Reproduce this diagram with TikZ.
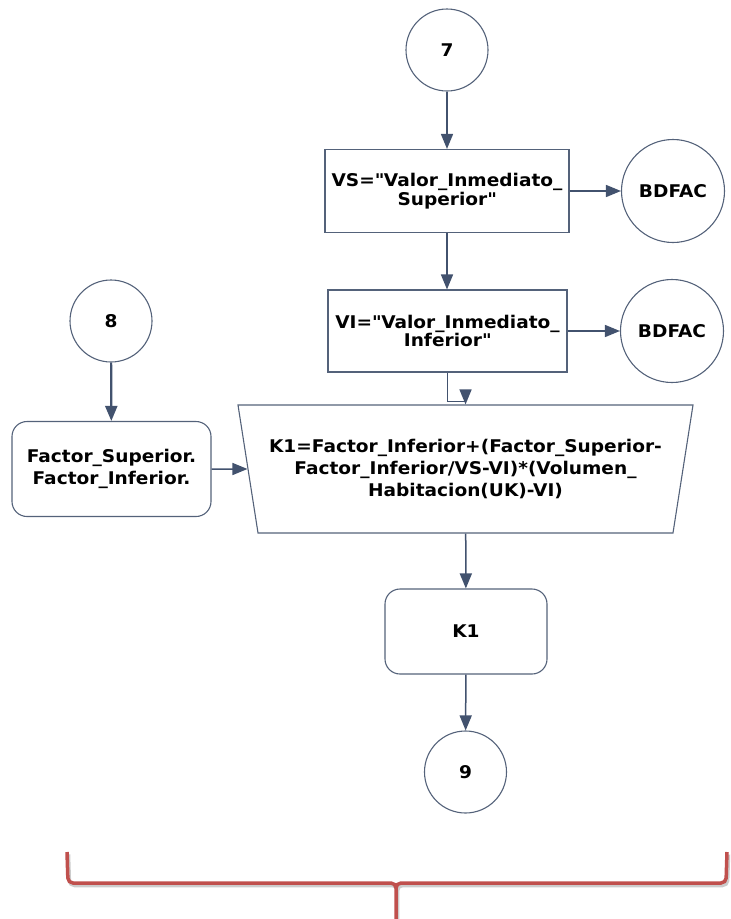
\documentclass[tikz,border=0pt]{standalone}
\usepackage{fontspec}
\setmainfont{DejaVu Sans}[FakeStretch=1.06]
\usetikzlibrary{arrows.meta,shapes.geometric}
\definecolor{linea}{RGB}{66,82,110}
\definecolor{borde}{RGB}{84,98,122}
\definecolor{llave}{RGB}{192,80,77}
\begin{document}
\begin{tikzpicture}[x=1pt,y=-1pt,>={Triangle[length=15pt,width=12pt]},
        every node/.style={font=\fontsize{17.5}{22}\selectfont\bfseries,align=center,inner sep=1pt},
        forma/.style={draw=borde,line width=1.1pt},
        circulo/.style={forma,circle,minimum size=82pt},
        bd/.style={forma,circle,minimum size=103pt},
        caja/.style={forma,rectangle,font=\fontsize{17.5}{16}\selectfont\bfseries},
        redondo/.style={forma,rounded corners=15pt},
        flecha/.style={->,draw=linea,line width=1.5pt}]
                \useasboundingbox (0,0) rectangle (731,919);
                \node[circulo] (c7) at (447,50) {7};
                \node[caja,minimum width=244pt,minimum height=83pt] (vs) at (447,191) {VS=\textquotedbl Valor\_Inmediato\_\\Superior\textquotedbl};
                \node[bd] (bd1) at (673,191) {BDFAC};
                \node[caja,minimum width=239pt,minimum height=82pt] (vi) at (447.5,331) {VI=\textquotedbl Valor\_Inmediato\_\\Inferior\textquotedbl};
                \node[bd] (bd2) at (672,331) {BDFAC};
                \node[circulo] (c8) at (111,321) {8};
                \node[redondo,minimum width=199pt,minimum height=95pt] (fac) at (111.5,469) {Factor\_Superior.\\Factor\_Inferior.};
                \node[forma,trapezium,trapezium angle=72,shape border rotate=180,trapezium stretches body,
                      minimum width=455pt,minimum height=128pt] (trap) at (465.5,469)
                      {K1=Factor\_Inferior+(Factor\_Superior-\\Factor\_Inferior/VS-VI)*(Volumen\_\\Habitacion(UK)-VI)};
                \node[redondo,minimum width=162pt,minimum height=85pt] (k1) at (466,631.5) {K1};
                \node[circulo] (c9) at (465.5,772) {9};
                \draw[flecha] (c7) -- (vs);
                \draw[flecha] (vs) -- (bd1);
                \draw[flecha] (vs.south) -- (vs.south |- vi.north);
                \draw[flecha] (vi) -- (bd2);
                \draw[flecha] (vi.south) -- ++(0,29) -| (trap.north);
                \draw[flecha,line width=2.2pt] (c8) -- (fac);
                \draw[flecha] (fac) -- (trap);
                \draw[flecha] (trap) -- (k1);
                \draw[flecha] (k1) -- (c9);
                \draw[black,opacity=0.2,line width=3.5pt,rounded corners=5pt,xshift=1.5pt,yshift=-2.5pt]
                      (67,852) -- (68,883) -- (396,883) -- (396,919) (727,852) -- (726,883) -- (396,883) -- (396,919);
                \draw[llave,line width=3.5pt,rounded corners=5pt]
                      (67,852) -- (68,883) -- (396,883) -- (396,919) (727,852) -- (726,883) -- (396,883) -- (396,919);
\end{tikzpicture}
\end{document}
